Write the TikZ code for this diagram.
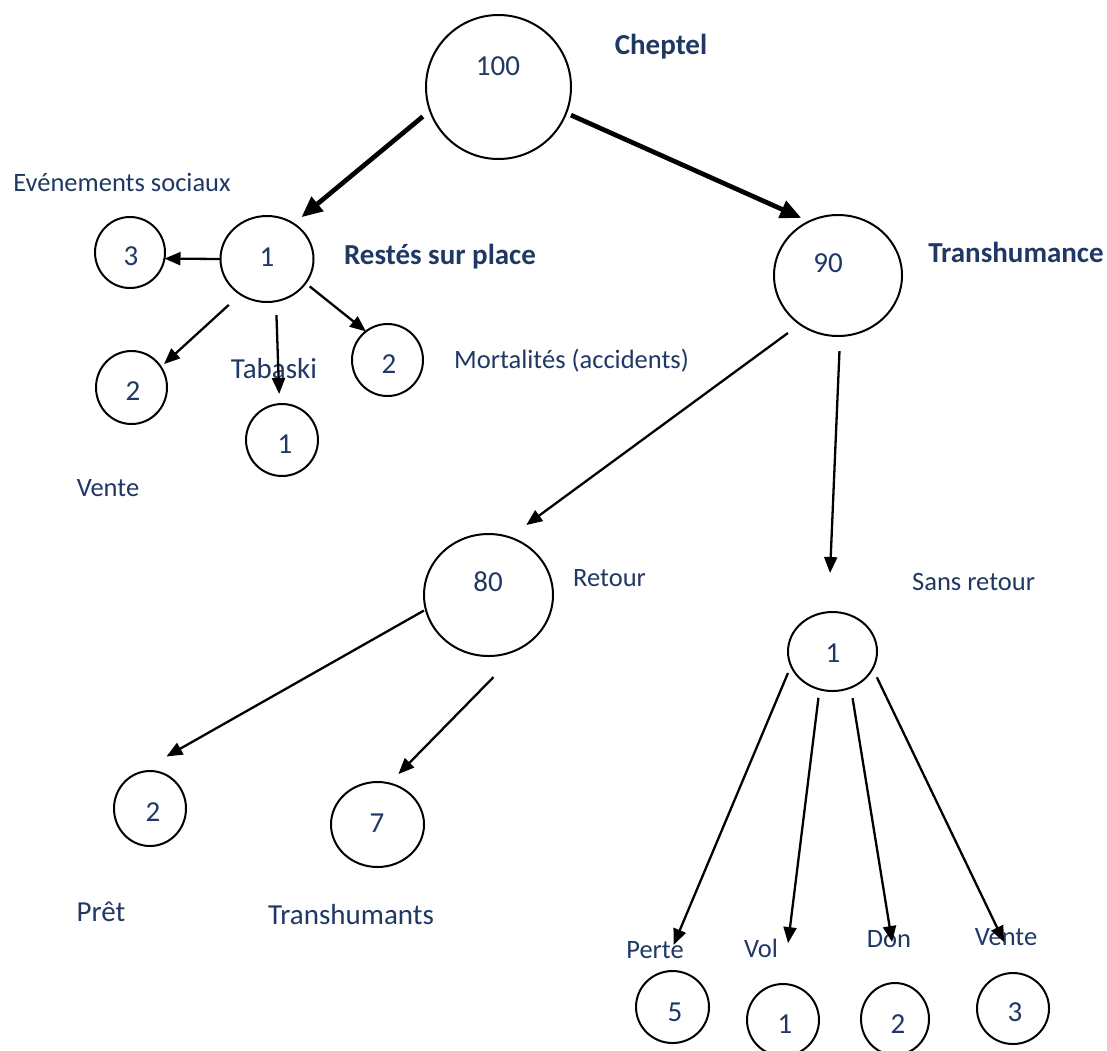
\documentclass[tikz,border=0pt]{standalone}
\usepackage{fontspec}
\setmainfont{Carlito}
\usetikzlibrary{shapes.geometric,arrows.meta}
\definecolor{ink}{RGB}{31,56,100}
\tikzset{
  bub/.style={draw, ellipse, line width=2pt, inner sep=0pt, outer sep=0pt},
  num/.style={text=ink, font=\fontsize{29}{34}\selectfont, inner sep=0pt, text height=18.7pt, text depth=0pt},
  lbig/.style={num},
  lsmall/.style={text=ink, font=\fontsize{26.5}{32}\selectfont, inner sep=0pt, text height=17pt, text depth=0pt},
  lbold/.style={text=ink, font=\fontsize{29}{34}\selectfont\bfseries, inner sep=0pt, text height=18.7pt, text depth=0pt},
  arw/.style={line width=2.3pt, -{Triangle[length=16pt,width=13pt]}},
  arwb/.style={line width=4.7pt, -{Triangle[length=21pt,width=18pt]}},
}
\begin{document}
\begin{tikzpicture}[x=1pt,y=-1pt]
\fill[white] (0,0) rectangle (1107,1050);
\useasboundingbox (0,0) rectangle (1107,1050);
\clip (0,0) rectangle (1107,1050);

% herd and its two branches
\node[bub, minimum width=145pt, minimum height=144pt] (chep) at (498.5,87) {};
\node[num] (chepv) at (498,66) {100};
\node[lbold] (chepl) at (661,45) {Cheptel};

\node[bub, minimum width=93pt, minimum height=86pt] (n1) at (267,259) {};
\node[num] (n1v) at (267,257) {1};
\node[lbold] (n1l) at (440,255) {Restés sur place};

\node[bub, minimum width=128pt, minimum height=121pt] (n90) at (838,275.5) {};
\node[num] (n90v) at (828,263) {90};
\node[lbold] (n90l) at (1016,253) {Transhumance};

% animals kept on site
\node[bub, minimum width=70pt, minimum height=71pt] (e3) at (130,252.5) {};
\node[num] (e3v) at (131,256) {3};
\node[lsmall] (e3l) at (122,183) {Evénements sociaux};

\node[bub, minimum width=71pt, minimum height=73pt] (v2) at (131.5,387.5) {};
\node[num] (v2v) at (133,391) {2};
\node[lsmall] (v2l) at (108,488) {Vente};

\node[bub, minimum width=72pt, minimum height=72pt] (t1) at (282,440) {};
\node[num] (t1v) at (285,444) {1};
\node[lbig] (t1l) at (274,369) {Tabaski};

\node[bub, minimum width=71pt, minimum height=72pt] (m2) at (387.5,360) {};
\node[num] (m2v) at (389,364) {2};
\node[lsmall, anchor=west] (m2l) at (454,360) {Mortalités (accidents)};

% transhumance: return
\node[bub, minimum width=129pt, minimum height=122pt] (n80) at (488.5,595) {};
\node[num] (n80v) at (488,582) {80};
\node[lsmall, anchor=west] (n80l) at (573,578) {Retour};

\node[bub, minimum width=72pt, minimum height=75pt] (p2) at (150,808.5) {};
\node[num] (p2v) at (153,812) {2};
\node[lbig] (p2l) at (101,912) {Prêt};

\node[bub, minimum width=93pt, minimum height=85pt] (t7) at (377.5,824.5) {};
\node[num] (t7v) at (377,823) {7};
\node[lbig] (t7l) at (351,915) {Transhumants};

% transhumance: no return
\node[bub, minimum width=89pt, minimum height=79pt] (s1) at (832.5,651.5) {};
\node[num] (s1v) at (833,653) {1};
\node[lsmall, anchor=west] (s1l) at (912,582) {Sans retour};

\node[bub, minimum width=73pt, minimum height=72pt] (b5) at (672.5,1007) {};
\node[num] (b5v) at (675,1012) {5};
\node[lsmall] (b5l) at (655,950) {Perte};

\node[bub, minimum width=72pt, minimum height=72pt] (b1) at (783,1020) {};
\node[num] (b1v) at (785,1024) {1};
\node[lsmall] (b1l) at (761,949) {Vol};

\node[bub, minimum width=68pt, minimum height=72pt] (b2) at (895,1019) {};
\node[num] (b2v) at (898,1024) {2};
\node[lsmall] (b2l) at (889,939) {Don};

\node[bub, minimum width=72pt, minimum height=71pt] (b3) at (1013,1008.5) {};
\node[num] (b3v) at (1015,1012) {3};
\node[lsmall] (b3l) at (1006,937) {Vente};

% connectors (border anchors on each arrow's own line, gaps by shortening)
\draw[arwb, shorten <=9.3pt, shorten >=10.2pt] (chep.199.4) -- (n1.53.8);
\draw[arwb, shorten <=5.3pt, shorten >=8.7pt] (chep.339.1) -- (n90.118.4);

\draw[arw] (n1.180) -- (e3.350);
\draw[arw, shorten <=15.7pt, shorten >=4.3pt] (n1.233.3) -- (v2.35.1);
\draw[arw, shorten <=13.9pt, shorten >=10.1pt] (n1.282.8) -- (t1.94.3);
\draw[arw, shorten <=5.3pt] (n1.328.8) -- (m2.127.7);

\draw[arw, shorten <=14.9pt, shorten >=20.8pt] (n90.232) -- (n80.70.2);
\draw[arw, shorten <=15.1pt, shorten >=39.2pt] (n90.272.6) -- (s1.96.2);

\draw[arw, shorten <=2.2pt, shorten >=39.6pt] (n80.193.4) -- (p2.119.2);
\draw[arw, shorten <=43.7pt, shorten >=13pt] (n80.305.2) -- (t7.74.5);

\draw[arw, shorten <=7.8pt, shorten >=29.9pt] (s1.199) -- (b5.107.9);
\draw[arw, shorten <=8.6pt, shorten >=41.2pt] (s1.251.9) -- (b1.90.3);
\draw[arw, shorten <=10.8pt, shorten >=41.7pt] (s1.297.7) -- (b2.84.3);
\draw[arw, shorten <=9.7pt, shorten >=34.9pt] (s1.337.5) -- (b3.80.1);
\end{tikzpicture}
\end{document}
